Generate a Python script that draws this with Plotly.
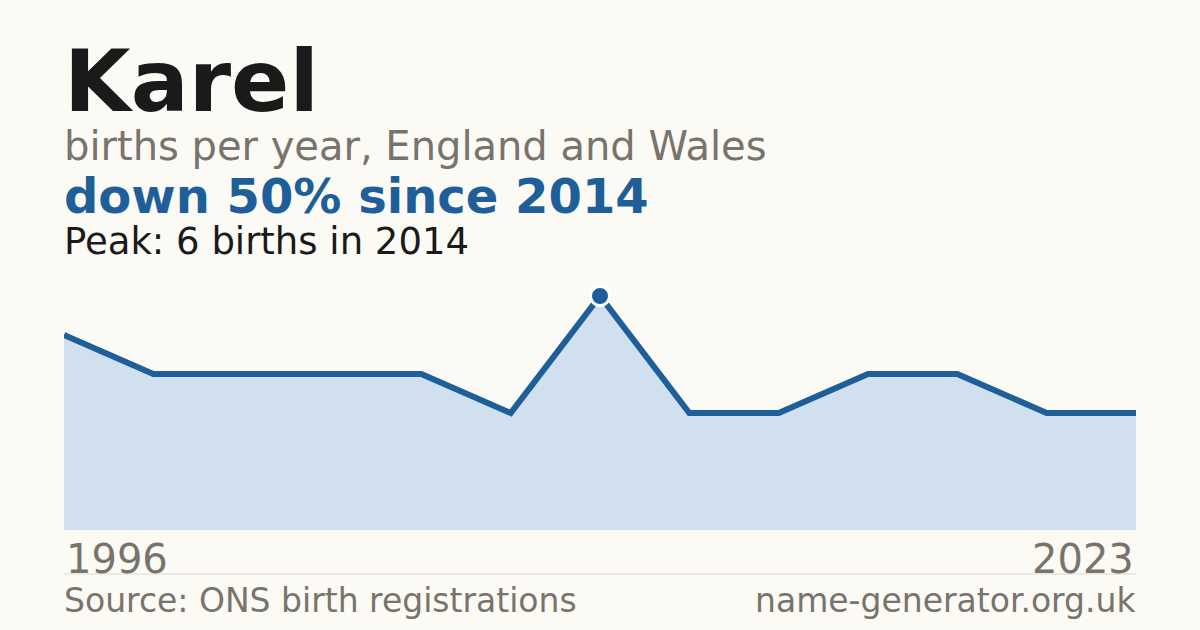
import plotly.graph_objects as go

# Data
years = [1996, 1999, 2001, 2004, 2007, 2011, 2014, 2015, 2017, 2018, 2020, 2021, 2023]
births = [5, 4, 4, 4, 4, 3, 6, 3, 3, 4, 4, 3, 3]

name = "Karel"
subtitle = "births per year, England and Wales"
source = "Source: ONS birth registrations"
site = "name-generator.org.uk"

idx = list(range(len(years)))
peak_i = max(idx, key=lambda i: births[i])
peak_v = births[peak_i]
peak_y = years[peak_i]
change = round((births[-1] - peak_v) / peak_v * 100)
headline = f"{'down' if change < 0 else 'up'} {abs(change)}% since {peak_y}"
peak_txt = f"Peak: {peak_v} births in {peak_y}"

BG = "#fbfaf5"
BLUE = "#1f5f99"
FILL = "#d0e0ef"
GRAY = "#78746c"
DARK = "#1a1a1a"
FONT = "DejaVu Sans"

W, H = 1200, 630
ML, MR, MT, MB = 64, 64, 280, 100
plot_h = H - MT - MB
px_per_unit = 39.0
ymax = plot_h / px_per_unit

fig = go.Figure()
fig.add_trace(go.Scatter(
    x=idx, y=births, mode="lines",
    line=dict(color=BLUE, width=6, shape="linear"),
    fill="tozeroy", fillcolor=FILL,
    hoverinfo="skip", cliponaxis=False,
))
fig.add_trace(go.Scatter(
    x=[peak_i], y=[peak_v], mode="markers",
    marker=dict(size=19, color=BLUE, line=dict(color="#ffffff", width=3)),
    hoverinfo="skip", cliponaxis=False,
))

def paper_y(px):
    return 1 - (px - MT) / plot_h  # convert pixel from top to paper coords

ann = []
def add_text(text, x, y_top, size, color, bold=False, xanchor="left", xref="paper"):
    ann.append(dict(
        text=f"<b>{text}</b>" if bold else text,
        x=x, xref=xref, y=paper_y(y_top), yref="paper",
        xanchor=xanchor, yanchor="top", showarrow=False,
        font=dict(family=FONT, size=size, color=color),
    ))

def px_x(px):
    return (px - ML) / (W - ML - MR)

add_text(name, px_x(62), 29, 86, DARK, bold=True)
add_text(subtitle, px_x(62), 121, 40, GRAY)
add_text(headline, px_x(62), 166, 48, BLUE, bold=True)
add_text(peak_txt, px_x(62), 218, 37, DARK)
add_text(str(years[0]), 0, 534, 40, GRAY, xref="x")
add_text(str(years[-1]), len(years) - 1, 534, 40, GRAY, xanchor="right", xref="x")
add_text(source, px_x(62), 579, 33, GRAY)
add_text(site, px_x(1138), 579, 33, GRAY, xanchor="right")

fig.update_layout(
    width=W, height=H,
    margin=dict(l=ML, r=MR, t=MT, b=MB),
    paper_bgcolor=BG, plot_bgcolor=BG,
    showlegend=False,
    xaxis=dict(range=[0, len(years) - 1], visible=False, fixedrange=True),
    yaxis=dict(range=[0, ymax], visible=False, fixedrange=True),
    annotations=ann,
    shapes=[dict(type="line", xref="paper", yref="paper",
                 x0=0, x1=1, y0=paper_y(574), y1=paper_y(574),
                 line=dict(color="#dcd9d1", width=1))],
)

fig.write_html(
    "out.html",
    config={"displayModeBar": False},
    post_script="document.body.style.margin='0';document.body.style.background='#fbfaf5';",
)
